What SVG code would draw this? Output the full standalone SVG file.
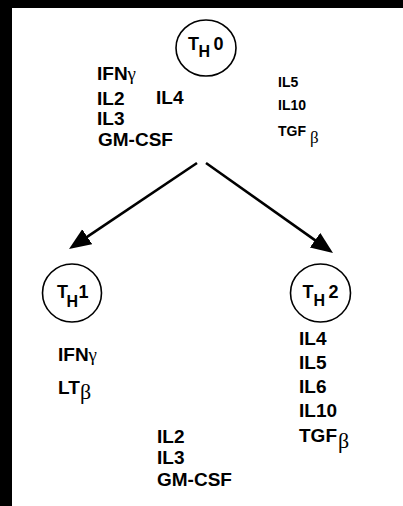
<svg xmlns="http://www.w3.org/2000/svg" width="403" height="506" viewBox="0 0 403 506">
  <defs>
    <style>
      .lbl { font-family: "Liberation Sans", Arial, sans-serif; font-weight: bold; fill: #000; }
      .big { font-size: 19px; }
      .small { font-size: 14px; }
      .greek { font-family: "Liberation Serif", "Times New Roman", serif; font-weight: normal; }
      .cell { fill: #fff; stroke: #000; stroke-width: 1.6; }
      .th { font-size: 18px; }
      .sub { font-size: 16px; }
      .conn { stroke: #000; stroke-width: 2.6; fill: none; marker-end: url(#head); }
    </style>
    <marker id="head" markerUnits="userSpaceOnUse" markerWidth="24" markerHeight="20" refX="2" refY="9" orient="auto">
      <path d="M0,0 L22,9 L0,18 z" fill="#000"/>
    </marker>
  </defs>

  <!-- page frame -->
  <rect x="0" y="0" width="403" height="506" fill="#000"/>
  <rect x="12" y="8" width="391" height="498" fill="#fff"/>

  <!-- connectors -->
  <g id="connectors">
    <line class="conn" x1="197" y1="163" x2="85.6" y2="237.8"/>
    <line class="conn" x1="206" y1="163" x2="316.7" y2="241.4"/>
  </g>

  <!-- naive T helper cell -->
  <g id="th0">
    <ellipse class="cell" cx="206" cy="48" rx="30" ry="28"/>
    <text class="lbl th" x="188" y="50">T</text>
    <text class="lbl sub" x="198.5" y="57">H</text>
    <text class="lbl th" x="213.5" y="50">0</text>
  </g>

  <g id="th0-cytokines-left">
    <text class="lbl big" x="97" y="80">IFN<tspan class="greek">γ</tspan></text>
    <text class="lbl big" x="97" y="105">IL2</text>
    <text class="lbl big" x="156" y="104">IL4</text>
    <text class="lbl big" x="97" y="125">IL3</text>
    <text class="lbl big" x="98" y="146">GM-CSF</text>
  </g>

  <g id="th0-cytokines-right">
    <text class="lbl small" x="278" y="87">IL5</text>
    <text class="lbl small" x="278" y="110">IL10</text>
    <text class="lbl small" x="278" y="136">TGF</text>
    <text class="lbl greek" x="310" y="143" font-size="17">β</text>
  </g>

  <!-- TH1 cell -->
  <g id="th1">
    <ellipse class="cell" cx="72" cy="293" rx="29.5" ry="29"/>
    <text class="lbl th" x="57" y="298">T</text>
    <text class="lbl sub" x="66.5" y="307">H</text>
    <text class="lbl th" x="78.5" y="298">1</text>
  </g>

  <g id="th1-cytokines">
    <text class="lbl big" x="58" y="361">IFN<tspan class="greek">γ</tspan></text>
    <text class="lbl big" x="58" y="394">LT</text>
    <text class="lbl greek" x="80" y="399" font-size="22">β</text>
  </g>

  <!-- TH2 cell -->
  <g id="th2">
    <ellipse class="cell" cx="320.5" cy="293" rx="30" ry="29"/>
    <text class="lbl th" x="302.5" y="298">T</text>
    <text class="lbl sub" x="313.5" y="306">H</text>
    <text class="lbl th" x="328.5" y="298">2</text>
  </g>

  <g id="th2-cytokines">
    <text class="lbl big" x="299" y="345">IL4</text>
    <text class="lbl big" x="299" y="368.5">IL5</text>
    <text class="lbl big" x="299" y="393">IL6</text>
    <text class="lbl big" x="299" y="417">IL10</text>
    <text class="lbl big" x="299" y="441.5">TGF</text>
    <text class="lbl greek" x="338" y="448" font-size="22">β</text>
  </g>

  <g id="shared-cytokines">
    <text class="lbl big" x="157" y="442.5">IL2</text>
    <text class="lbl big" x="157" y="464">IL3</text>
    <text class="lbl big" x="157" y="485.5">GM-CSF</text>
  </g>
</svg>
